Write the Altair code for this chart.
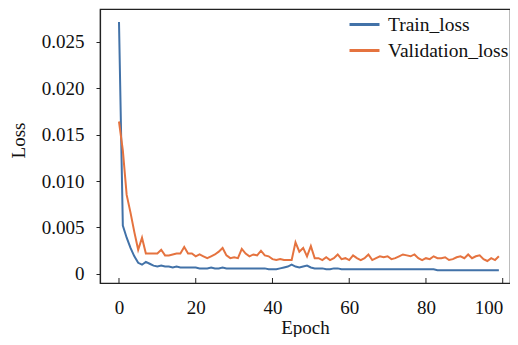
import altair as alt
import pandas as pd

epochs = list(range(100))
train_loss = [
    0.0271, 0.0052, 0.0039, 0.0028, 0.0019, 0.0012, 0.0010, 0.0013, 0.0011, 0.0009,
    0.0008, 0.0009, 0.0008, 0.0008, 0.0007, 0.0008, 0.0007, 0.0007, 0.0007, 0.0007,
    0.0007, 0.0006, 0.0006, 0.0006, 0.0007, 0.0006, 0.0006, 0.0007, 0.0006, 0.0006,
    0.0006, 0.0006, 0.0006, 0.0006, 0.0006, 0.0006, 0.0006, 0.0006, 0.0006, 0.0005,
    0.0005, 0.0005, 0.0006, 0.0007, 0.0008, 0.0010, 0.0008, 0.0007, 0.0008, 0.0009,
    0.0007, 0.0006, 0.0006, 0.0006, 0.0005, 0.0005, 0.0006, 0.0006, 0.0005, 0.0005,
    0.0005, 0.0005, 0.0005, 0.0005, 0.0005, 0.0005, 0.0005, 0.0005, 0.0005, 0.0005,
    0.0005, 0.0005, 0.0005, 0.0005, 0.0005, 0.0005, 0.0005, 0.0005, 0.0005, 0.0005,
    0.0005, 0.0005, 0.0005, 0.0004, 0.0004, 0.0004, 0.0004, 0.0004, 0.0004, 0.0004,
    0.0004, 0.0004, 0.0004, 0.0004, 0.0004, 0.0004, 0.0004, 0.0004, 0.0004, 0.0004,
]
validation_loss = [
    0.0164, 0.0133, 0.0085, 0.0066, 0.0045, 0.0026, 0.0039, 0.0022, 0.0022, 0.0022,
    0.0022, 0.0026, 0.0020, 0.0020, 0.0021, 0.0022, 0.0022, 0.0029, 0.0022, 0.0022,
    0.0019, 0.0021, 0.0019, 0.0017, 0.0019, 0.0021, 0.0024, 0.0028, 0.0020, 0.0017,
    0.0018, 0.0017, 0.0027, 0.0022, 0.0019, 0.0021, 0.0020, 0.0025, 0.0020, 0.0019,
    0.0016, 0.0015, 0.0016, 0.0015, 0.0015, 0.0015, 0.0034, 0.0024, 0.0028, 0.0019,
    0.0030, 0.0017, 0.0017, 0.0015, 0.0018, 0.0015, 0.0017, 0.0021, 0.0016, 0.0017,
    0.0015, 0.0020, 0.0017, 0.0015, 0.0017, 0.0021, 0.0015, 0.0017, 0.0019, 0.0018,
    0.0019, 0.0016, 0.0017, 0.0019, 0.0021, 0.0020, 0.0019, 0.0021, 0.0017, 0.0015,
    0.0017, 0.0016, 0.0019, 0.0017, 0.0017, 0.0018, 0.0015, 0.0016, 0.0018, 0.0019,
    0.0017, 0.0021, 0.0017, 0.0019, 0.0020, 0.0016, 0.0014, 0.0017, 0.0015, 0.0019,
]
series_names = ["Train_loss", "Validation_loss"]
series_colors = ["#4272a8", "#e5733f"]
x_ticks = [0, 20, 40, 60, 80, 100]
y_ticks = [0, 0.005, 0.010, 0.015, 0.020, 0.025]

df = pd.concat([
    pd.DataFrame({"Epoch": epochs, "Loss": train_loss, "Series": series_names[0]}),
    pd.DataFrame({"Epoch": epochs, "Loss": validation_loss, "Series": series_names[1]}),
])
ticks_df = pd.DataFrame({"Epoch": x_ticks})

FONT = "Liberation Serif"
xscale = alt.Scale(domain=[-4.95, 101.9], nice=False, zero=False)
yscale = alt.Scale(domain=[-0.00097, 0.0285], nice=False, zero=False)

lines = alt.Chart(df).mark_line(strokeWidth=2).encode(
    x=alt.X("Epoch:Q", scale=xscale,
            axis=alt.Axis(values=x_ticks, title="Epoch", tickSize=0, labelPadding=15,
                          titlePadding=1, grid=False, format="d", labelFlush=10)),
    y=alt.Y("Loss:Q", scale=yscale,
            axis=alt.Axis(values=y_ticks, title="Loss", tickSize=4, labelPadding=12,
                          titlePadding=13, titleY=131, grid=False,
                          labelExpr="datum.value == 0 ? '0' : format(datum.value, '.3f')")),
    color=alt.Color("Series:N",
                    scale=alt.Scale(domain=series_names, range=series_colors),
                    legend=alt.Legend(title=None, orient="none", legendX=248, legendY=-1,
                                      symbolType="stroke", symbolSize=900, symbolStrokeWidth=3,
                                      labelFontSize=19.5, labelFont=FONT, labelOffset=7,
                                      rowPadding=-8, padding=0, labelColor="#111")),
    detail="Series:N",
)

inner_ticks = alt.Chart(ticks_df).mark_rule(color="#222", strokeWidth=1).encode(
    x=alt.X("Epoch:Q", scale=xscale),
    y=alt.value(274),
    y2=alt.value(269),
)

chart = alt.layer(lines, inner_ticks).properties(
    width=410, height=274,
    autosize=alt.AutoSizeParams(type="none"),
    padding={"left": 92, "top": 1, "right": 0, "bottom": 54},
).configure_view(
    stroke="#222", strokeWidth=1.2
).configure_axis(
    labelFont=FONT, titleFont=FONT, labelFontSize=19, titleFontSize=19,
    labelColor="#111", titleColor="#111", titleFontWeight="normal",
    domainColor="#222", tickColor="#222", domainWidth=1.2,
)

chart.save("out.html", embed_options={"renderer": "svg", "actions": False})
